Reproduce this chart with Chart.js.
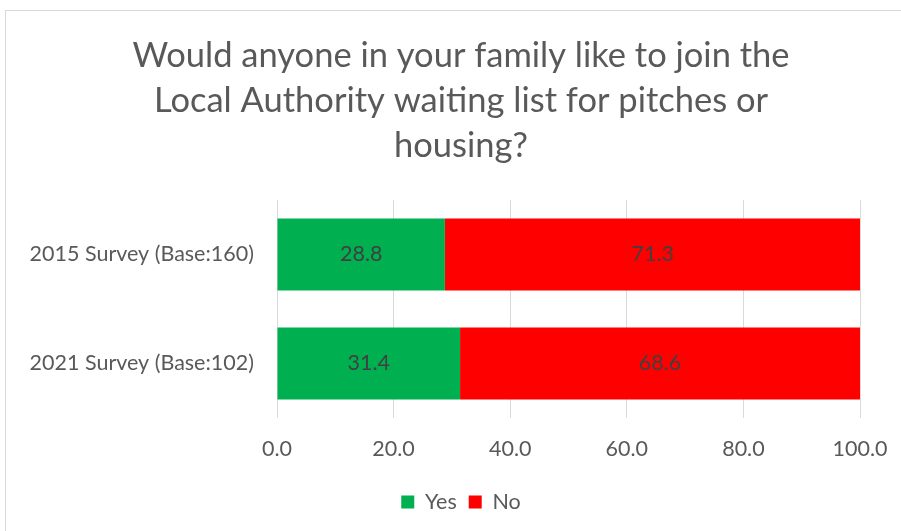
<!DOCTYPE html>
<html>
<head>
<meta charset="utf-8">
<script src="https://cdn.jsdelivr.net/npm/chart.js@4"></script>
<style>
html,body{margin:0;padding:0;background:#fff;}
#wrap{position:relative;width:901px;height:531px;}
</style>
</head>
<body>
<div id="wrap"><canvas id="c" width="901" height="531"></canvas></div>
<script>
const titleLines = ["Would anyone in your family like to join the", "Local Authority waiting list for pitches or", "housing?"];
const categories = ["2015 Survey (Base:160)", "2021 Survey (Base:102)"];
const yesValues = [28.8, 31.4];
const noValues = [71.3, 68.6];
const seriesNames = ["Yes", "No"];
const xMin = 0, xMax = 100, xStep = 20;

const FONT = "Lato, 'Open Sans', 'Liberation Sans', sans-serif";
const TXT = "#595959";
const FS = 21.5;

const borderPlugin = {
  id: 'outerBorder',
  beforeDraw(chart) {
    const ctx = chart.ctx;
    ctx.save();
    ctx.strokeStyle = '#d9d9d9';
    ctx.lineWidth = 1;
    ctx.strokeRect(5.5, 10.5, chart.width + 10, chart.height + 10);
    ctx.restore();
  }
};

const valueLabels = {
  id: 'valueLabels',
  afterDatasetsDraw(chart) {
    const ctx = chart.ctx;
    ctx.save();
    ctx.font = FS + "px " + FONT;
    ctx.fillStyle = "#404040";
    ctx.textAlign = 'center';
    ctx.textBaseline = 'middle';
    chart.data.datasets.forEach((ds, di) => {
      const meta = chart.getDatasetMeta(di);
      meta.data.forEach((el, i) => {
        const p = el.getProps(['x', 'y', 'base'], true);
        const cx = (p.x + p.base) / 2;
        ctx.fillText(Number(ds.data[i]).toFixed(1), cx, p.y);
      });
    });
    ctx.restore();
  }
};

new Chart(document.getElementById('c'), {
  type: 'bar',
  data: {
    labels: categories,
    datasets: [
      { label: seriesNames[0], data: yesValues, backgroundColor: '#00b050', borderWidth: 0 },
      { label: seriesNames[1], data: noValues, backgroundColor: '#ff0000', borderWidth: 0 }
    ]
  },
  options: {
    indexAxis: 'y',
    responsive: false,
    animation: false,
    devicePixelRatio: 1,
    layout: { padding: { left: 26, right: 5, top: 0, bottom: 8.25 } },
    categoryPercentage: 0.66,
    barPercentage: 1,
    scales: {
      x: {
        stacked: true,
        min: xMin, max: xMax,
        ticks: {
          stepSize: xStep,
          color: TXT,
          font: { family: FONT, size: FS },
          padding: 18,
          callback: v => Number(v).toFixed(1)
        },
        grid: { color: '#d9d9d9', lineWidth: 1, drawTicks: false },
        border: { display: false },
        afterFit: s => { s.height = 61.25; s.paddingLeft = 0; s.paddingRight = 0; }
      },
      y: {
        stacked: true,
        ticks: { color: TXT, font: { family: FONT, size: FS }, padding: 23 },
        grid: { display: false, drawTicks: false },
        border: { display: false },
        afterFit: s => { s.width = 251; s.paddingTop = 0; s.paddingBottom = 0; }
      },
      yR: {
        type: 'linear',
        position: 'right',
        display: true,
        ticks: { display: false },
        grid: { display: false, drawTicks: false },
        border: { display: false },
        afterFit: s => { s.width = 36; s.paddingTop = 0; s.paddingBottom = 0; }
      }
    },
    plugins: {
      title: {
        display: true,
        text: titleLines,
        color: TXT,
        font: { family: FONT, size: 34.5, weight: 'normal', lineHeight: 1.304 },
        padding: { top: 33, bottom: 32 }
      },
      legend: {
        position: 'bottom',
        labels: {
          color: TXT,
          font: { family: FONT, size: FS },
          boxWidth: 13, boxHeight: 13,
          padding: 12
        }
      },
      tooltip: { enabled: false }
    }
  },
  plugins: [borderPlugin, valueLabels]
});
</script>
</body>
</html>
